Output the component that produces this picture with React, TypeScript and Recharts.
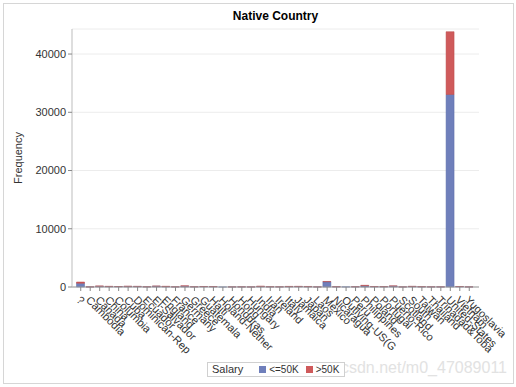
import { Bar, BarChart, CartesianGrid, XAxis, YAxis } from "recharts";

const countries = [
  "?", "Cambodia", "Canada", "China", "Columbia", "Cuba", "Dominican-Republic",
  "Ecuador", "El-Salvador", "England", "France", "Germany", "Greece", "Guatemala",
  "Haiti", "Holand-Netherlands", "Honduras", "Hong", "Hungary", "India", "Iran",
  "Ireland", "Italy", "Jamaica", "Japan", "Laos", "Mexico", "Nicaragua",
  "Outlying-US(Guam-USVI-etc)", "Peru", "Philippines", "Poland", "Portugal",
  "Puerto-Rico", "Scotland", "South", "Taiwan", "Thailand", "Trinadad&Tobago",
  "United-States", "Vietnam", "Yugoslavia",
];

// salary <=50K
const lowIncome = [
  642, 18, 122, 86, 81, 104, 98, 39, 143, 80, 22, 148, 36, 85, 69, 1, 18, 22, 13,
  91, 37, 27, 71, 93, 60, 21, 904, 46, 23, 42, 207, 69, 58, 164, 17, 95, 40, 24,
  24, 33054, 80, 15,
];

// salary >50K
const highIncome = [
  215, 10, 60, 36, 4, 34, 5, 6, 12, 47, 16, 58, 13, 3, 6, 0, 2, 8, 6, 60, 22, 10,
  34, 13, 32, 2, 47, 3, 0, 4, 88, 18, 9, 20, 4, 20, 25, 6, 3, 10778, 6, 8,
];

const yTicks = [0, 10000, 20000, 30000, 40000];

const data = countries.map((country, i) => ({
  country,
  low: lowIncome[i],
  high: highIncome[i],
}));

const FONT = "'Liberation Sans', Arial, sans-serif";
const BLUE = "#6f7fbb";
const RED = "#cf5a5b";

function CountryTick({ x, y, payload }: { x?: number; y?: number; payload?: { value: string } }) {
  return (
    <g transform={`translate(${x},${y})`}>
      <text
        transform="rotate(45)"
        x={2}
        y={0}
        dy={9}
        textAnchor="start"
        fontSize={11}
        fontFamily={FONT}
        fill="#333"
      >
        {String(payload?.value ?? "").slice(0, 13)}
      </text>
    </g>
  );
}

export default function App() {
  return (
    <div style={{ position: "fixed", left: 0, top: 0, width: 516, height: 387, background: "#fff", fontFamily: FONT }}>
      <div
        style={{
          position: "absolute",
          left: 3,
          top: 3,
          width: 509,
          height: 379,
          border: "1px solid #d6d6d6",
        }}
      />
      <div
        style={{
          position: "absolute",
          left: 72,
          width: 407,
          top: 9,
          textAlign: "center",
          fontSize: 12,
          fontWeight: "bold",
          color: "#000",
        }}
      >
        Native Country
      </div>
      <BarChart
        width={516}
        height={387}
        data={data}
        margin={{ top: 29, right: 37, bottom: 30, left: 12 }}
        barCategoryGap={0.5}
        style={{ position: "absolute", left: 0, top: 0 }}
      >
        <CartesianGrid vertical={false} stroke="#ececec" />
        <XAxis
          dataKey="country"
          interval={0}
          height={70}
          padding={{ left: 4, right: 5 }}
          tick={<CountryTick />}
          tickLine={{ stroke: "#888" }}
          tickSize={4}
          axisLine={{ stroke: "#999" }}
        />
        <XAxis
          xAxisId="top"
          dataKey="country"
          orientation="top"
          height={0}
          tick={false}
          tickLine={false}
          axisLine={{ stroke: "#cfcfcf" }}
        />
        <YAxis
          width={60}
          domain={[0, 44300]}
          ticks={yTicks}
          tick={{ fontSize: 11, fill: "#333", fontFamily: FONT }}
          tickLine={{ stroke: "#888" }}
          tickSize={4}
          axisLine={{ stroke: "#bdbdbd" }}
          label={{
            value: "Frequency",
            angle: -90,
            position: "insideLeft",
            offset: 6,
            style: { fontSize: 11, fill: "#333", fontFamily: FONT, textAnchor: "middle" },
          }}
        />
        <YAxis
          yAxisId="right"
          orientation="right"
          width={0}
          tick={false}
          tickLine={false}
          axisLine={{ stroke: "#cfcfcf" }}
        />
        <Bar dataKey="low" stackId="s" fill={BLUE} stroke="#5a6aa6" strokeWidth={0.5} isAnimationActive={false} />
        <Bar dataKey="high" stackId="s" fill={RED} stroke="#b84a4b" strokeWidth={0.5} isAnimationActive={false} />
      </BarChart>
      <div
        style={{
          position: "absolute",
          right: 9,
          top: 359,
          fontSize: 16,
          color: "#e2e2e2",
          whiteSpace: "nowrap",
        }}
      >
        csdn.net/m0_47089011
      </div>
      <div
        style={{
          position: "absolute",
          left: 207,
          top: 362,
          width: 136,
          height: 13,
          border: "1px solid #d0d0d0",
          background: "#fff",
          fontSize: 10,
          lineHeight: "13px",
          color: "#333",
          display: "flex",
          alignItems: "center",
          whiteSpace: "nowrap",
        }}
      >
        <span style={{ marginLeft: 4, fontSize: 11 }}>Salary</span>
        <span style={{ display: "inline-block", width: 7, height: 7, background: BLUE, marginLeft: 16 }} />
        <span style={{ marginLeft: 3 }}>{"<=50K"}</span>
        <span style={{ display: "inline-block", width: 7, height: 7, background: RED, marginLeft: 7 }} />
        <span style={{ marginLeft: 3 }}>{">50K"}</span>
      </div>
    </div>
  );
}
